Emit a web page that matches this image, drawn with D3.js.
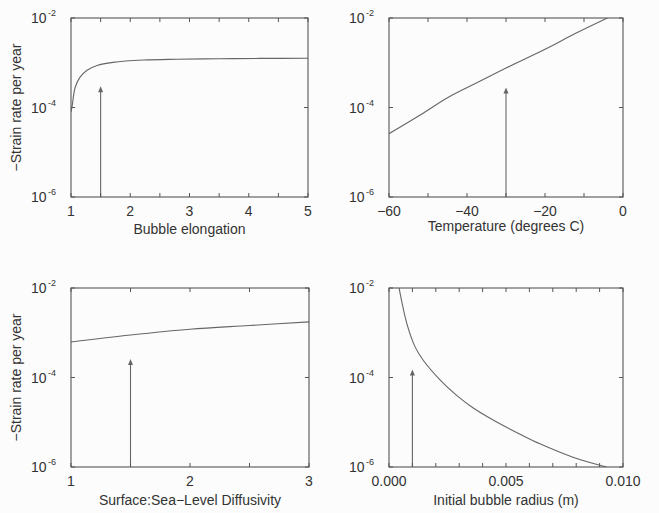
<!DOCTYPE html>
<html>
<head>
<meta charset="utf-8">
<script src="https://cdn.jsdelivr.net/npm/d3@7"></script>
<style>
  body { margin: 0; background: #fcfcfc; }
  svg { display: block; }
  text { font-family: "Liberation Sans", Arial, sans-serif; fill: #333; }
</style>
</head>
<body>
<script>
var width = 659,
    height = 513;

// panel 1: bubble elongation
var elongX = [1.0, 1.02, 1.07, 1.15, 1.27, 1.44, 1.71, 2.22, 2.79, 3.5, 4.2, 5.0];
var elongY = [8e-5, 1.1e-4, 2.8e-4, 4.7e-4, 6.8e-4, 8.7e-4, 1.02e-3, 1.15e-3, 1.2e-3, 1.23e-3, 1.25e-3, 1.26e-3];

// panel 2: temperature
var tempX = [-60, -52, -45, -38, -30, -20, -12, -4];
var tempY = [2.6e-5, 6.8e-5, 1.66e-4, 3.4e-4, 7.6e-4, 2.0e-3, 4.6e-3, 1.0e-2];

// panel 3: diffusivity ratio
var diffX = [1, 1.5, 2, 2.5, 3];
var diffY = [6.2e-4, 8.9e-4, 1.2e-3, 1.45e-3, 1.75e-3];

// panel 4: initial bubble radius
var radX = [0.00043, 0.00076, 0.00111, 0.00147, 0.00218, 0.00289, 0.0036, 0.00432, 0.0050, 0.0056, 0.00645, 0.00786, 0.0093];
var radY = [1.0e-2, 1.62e-3, 4.9e-4, 2.4e-4, 8.9e-5, 4.0e-5, 2.09e-5, 1.23e-5, 7.8e-6, 5.4e-6, 3.3e-6, 1.66e-6, 1.0e-6];

// nominal values (arrows)
var arrowX = [1.5, -30, 1.5, 0.001];
var arrowY = [3e-4, 2.8e-4, 2.6e-4, 1.5e-4];

var yTicks = [1e-2, 1e-4, 1e-6];
var yTickExp = ["-2", "-4", "-6"];

var svg = d3.select("body").append("svg")
    .attr("width", width)
    .attr("height", height);

var panels = [
  { box: [71, 18, 308, 197], xs: elongX, ys: elongY, dom: [1, 5], ticks: d3.range(1, 5.01, 0.5),
    labels: [1, 2, 3, 4, 5], fmt: d3.format("d"), title: "Bubble elongation", ylab: true, lx: 234 },
  { box: [389, 18, 623, 197], xs: tempX, ys: tempY, dom: [-60, 0], ticks: d3.range(-60, 0.1, 10),
    labels: [-60, -40, -20, 0], fmt: function(d) { return d < 0 ? "\u2212" + (-d) : d; }, title: "Temperature (degrees C)", ylab: false, lx: 231 },
  { box: [71, 288, 309, 467], xs: diffX, ys: diffY, dom: [1, 3], ticks: d3.range(1, 3.01, 0.5),
    labels: [1, 2, 3], fmt: d3.format("d"), title: "Surface:Sea\u2212Level Diffusivity", ylab: true, lx: 505 },
  { box: [389, 288, 623, 467], xs: radX, ys: radY, dom: [0, 0.01], ticks: d3.range(0, 0.01001, 0.001),
    labels: [0, 0.005, 0.01], fmt: d3.format(".3f"), title: "Initial bubble radius (m)", ylab: false, lx: 505 }
];

panels.forEach(function(p, i) {
  var x0 = p.box[0], y0 = p.box[1], x1 = p.box[2], y1 = p.box[3];
  var x = d3.scaleLinear().domain(p.dom).range([x0, x1]);
  var y = d3.scaleLog().domain([1e-6, 1e-2]).range([y1, y0]);
  var g = svg.append("g");

  // curve, clipped to box
  var clipId = "clip" + i;
  svg.append("clipPath").attr("id", clipId)
    .append("rect").attr("x", x0).attr("y", y0).attr("width", x1 - x0).attr("height", y1 - y0);

  var pts = p.xs.map(function(d, j) { return [d, p.ys[j]]; });
  g.append("path")
      .datum(pts)
      .attr("clip-path", "url(#" + clipId + ")")
      .attr("fill", "none")
      .attr("stroke", "#666")
      .attr("stroke-width", 1.1)
      .attr("d", d3.line()
        .x(function(d) { return x(d[0]); })
        .y(function(d) { return y(d[1]); })
        .curve(d3.curveCatmullRom.alpha(0.5)));

  // arrow
  var ax = x(arrowX[i]), ay = y(arrowY[i]);
  g.append("line")
      .attr("x1", ax).attr("x2", ax)
      .attr("y1", y1).attr("y2", ay + 3)
      .attr("stroke", "#666").attr("stroke-width", 1.1);
  g.append("path")
      .attr("d", "M" + ax + "," + ay + "L" + (ax - 2.5) + "," + (ay + 6) + "L" + (ax + 2.5) + "," + (ay + 6) + "Z")
      .attr("fill", "#666");

  // box
  g.append("rect")
      .attr("x", x0).attr("y", y0)
      .attr("width", x1 - x0).attr("height", y1 - y0)
      .attr("fill", "none").attr("stroke", "#555").attr("stroke-width", 1.1);

  // x ticks top and bottom, inward
  p.ticks.forEach(function(t) {
    g.append("line").attr("x1", x(t)).attr("x2", x(t)).attr("y1", y1).attr("y2", y1 - 4)
      .attr("stroke", "#555");
    g.append("line").attr("x1", x(t)).attr("x2", x(t)).attr("y1", y0).attr("y2", y0 + 4)
      .attr("stroke", "#555");
  });
  // y ticks left and right
  yTicks.forEach(function(t) {
    g.append("line").attr("x1", x0).attr("x2", x0 + 4).attr("y1", y(t)).attr("y2", y(t))
      .attr("stroke", "#555");
    g.append("line").attr("x1", x1).attr("x2", x1 - 4).attr("y1", y(t)).attr("y2", y(t))
      .attr("stroke", "#555");
  });

  // x tick labels
  g.selectAll(".xl").data(p.labels).enter().append("text")
      .attr("x", function(d) { return x(d); })
      .attr("y", y1 + 19)
      .attr("text-anchor", "middle")
      .style("font-size", "14px")
      .text(p.fmt);

  // y tick labels
  yTicks.forEach(function(t, j) {
    var tx = g.append("text")
        .attr("x", x0 - 15)
        .attr("y", y(t) + 5)
        .attr("text-anchor", "end")
        .style("font-size", "14px");
    tx.append("tspan").text("10");
    tx.append("tspan").attr("dy", -7).attr("dx", 1.5).style("font-size", "9px").text(yTickExp[j]);
  });

  // x label
  g.append("text")
      .attr("x", (x0 + x1) / 2)
      .attr("y", p.lx)
      .attr("text-anchor", "middle")
      .style("font-size", "14px")
      .text(p.title);

  if (p.ylab) {
    g.append("text")
        .attr("transform", "translate(21," + ((y0 + y1) / 2) + ") rotate(-90)")
        .attr("text-anchor", "middle")
        .style("font-size", "14px")
        .text("\u2212Strain rate per year");
  }
});
</script>
</body>
</html>
